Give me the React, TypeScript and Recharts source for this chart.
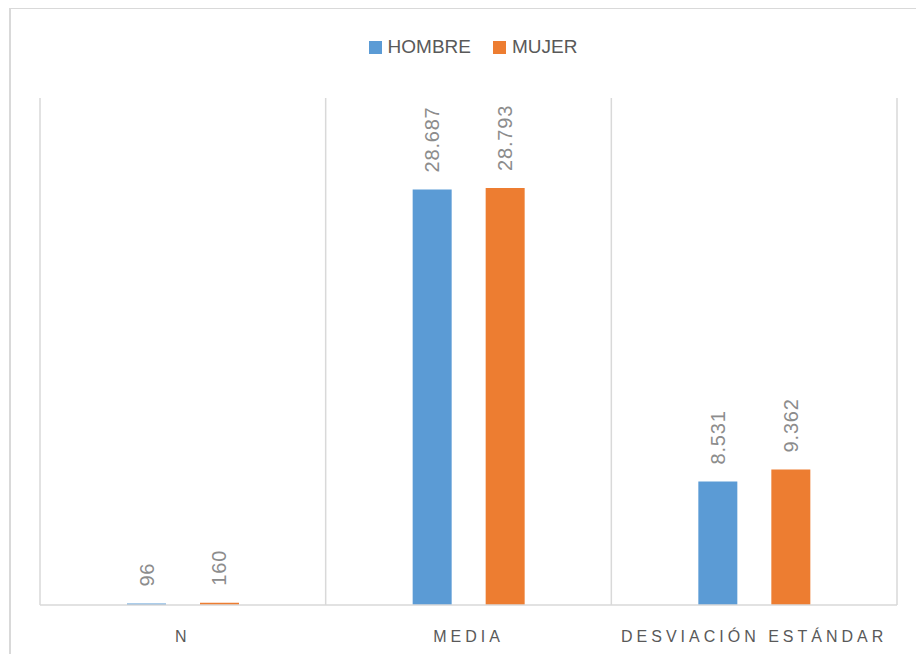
import { BarChart, Bar, XAxis, YAxis, CartesianGrid, LabelList } from "recharts";

const categories = ["N", "MEDIA", "DESVIACIÓN ESTÁNDAR"];
const hombre = [96, 28687, 8531];
const mujer = [160, 28793, 9362];
const seriesNames = ["HOMBRE", "MUJER"];

const data = categories.map((name, i) => ({ name, HOMBRE: hombre[i], MUJER: mujer[i] }));

const BLUE = "#5b9bd5";
const ORANGE = "#ed7d31";
const GRID = "#d9d9d9";
const FONT = "'Liberation Sans', Arial, sans-serif";

// 28687 -> "28.687"
const fmt = (v: number) => String(v).replace(/\B(?=(\d{3})+(?!\d))/g, ".");

const renderLabel = (props: any) => {
  const { x, y, width, value } = props;
  const cx = x + width / 2;
  const cy = y - 17;
  return (
    <text
      x={cx}
      y={cy}
      transform={`rotate(-90, ${cx}, ${cy})`}
      textAnchor="start"
      dominantBaseline="central"
      fill="#8c8c8c"
      fontSize={20}
      fontFamily={FONT}
      letterSpacing={0.8}
    >
      {fmt(value)}
    </text>
  );
};

const CategoryTick = (props: any) => {
  const { x, y, payload } = props;
  return (
    <text
      x={x}
      y={y + 23}
      textAnchor="middle"
      dominantBaseline="central"
      fill="#595959"
      fontSize={16}
      fontFamily={FONT}
      letterSpacing={4}
    >
      {payload.value}
    </text>
  );
};

export default function App() {
  return (
    <div style={{ position: "absolute", left: 0, top: 0, width: 916, height: 654, background: "#fff", overflow: "hidden" }}>
      <div
        style={{
          position: "absolute",
          left: 9,
          top: 8,
          width: 960,
          height: 700,
          borderLeft: `2px solid ${GRID}`,
          borderTop: `1.5px solid ${GRID}`,
        }}
      />
      <div
        style={{
          position: "absolute",
          left: 0,
          top: 36,
          width: 946,
          display: "flex",
          justifyContent: "center",
          fontFamily: FONT,
          fontSize: 19,
          color: "#595959",
          lineHeight: "22px",
        }}
      >
        {seriesNames.map((label, i) => (
          <div key={label} style={{ display: "flex", alignItems: "center", margin: "0 11px" }}>
            <span style={{ width: 13, height: 13, background: i === 0 ? BLUE : ORANGE, marginRight: 6, display: "inline-block" }} />
            <span>{label}</span>
          </div>
        ))}
      </div>
      <div style={{ position: "absolute", left: 0, top: 0 }}>
        <BarChart
          width={916}
          height={654}
          data={data}
          margin={{ top: 98, right: 19, left: 40, bottom: 0 }}
          barSize={39}
          barGap={34}
        >
          <CartesianGrid
            horizontal={false}
            stroke={GRID}
            strokeWidth={1.5}
            verticalCoordinatesGenerator={({ offset }: any) =>
              [0, 1, 2, 3].map((i) => offset.left + (i * offset.width) / 3)
            }
          />
          <XAxis
            dataKey="name"
            height={49}
            axisLine={{ stroke: GRID, strokeWidth: 1.5 }}
            tickLine={false}
            tick={<CategoryTick />}
            interval={0}
          />
          <YAxis hide domain={[0, 35000]} />
          <Bar dataKey="HOMBRE" fill={BLUE} isAnimationActive={false}>
            <LabelList dataKey="HOMBRE" content={renderLabel} />
          </Bar>
          <Bar dataKey="MUJER" fill={ORANGE} isAnimationActive={false}>
            <LabelList dataKey="MUJER" content={renderLabel} />
          </Bar>
        </BarChart>
      </div>
    </div>
  );
}
